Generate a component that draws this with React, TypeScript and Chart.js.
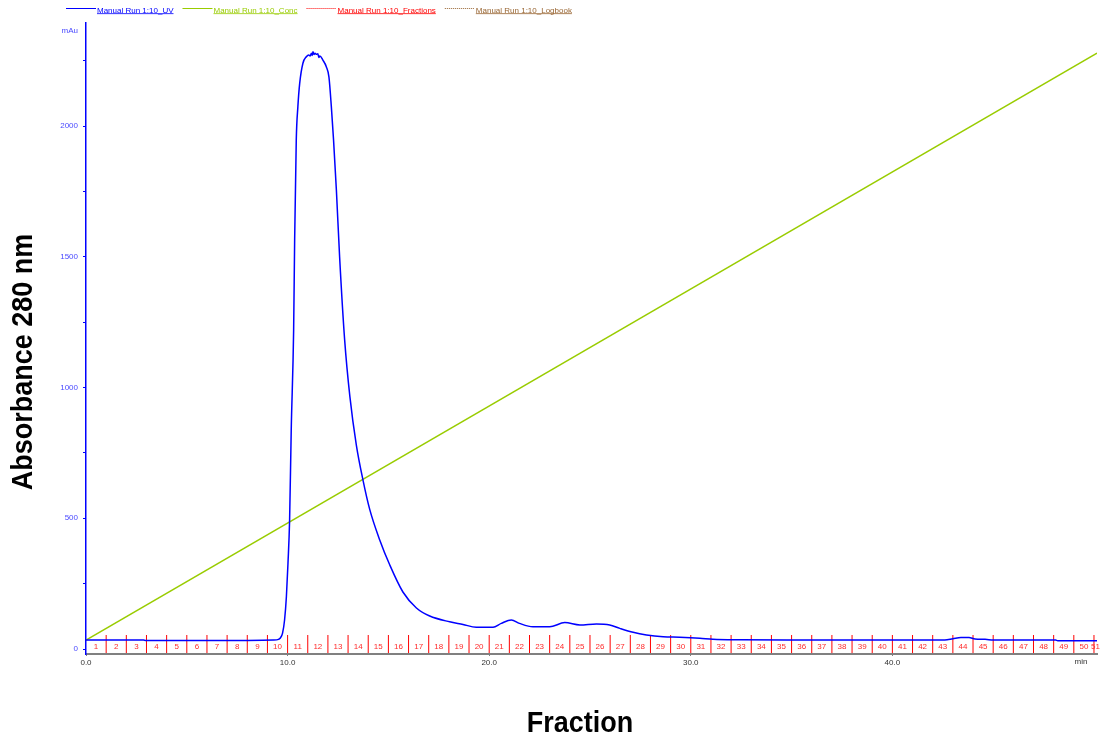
import React, { useEffect, useRef } from 'react';
import { Chart, registerables } from 'chart.js';

Chart.register(...registerables);

// ---- Data ----
const uvTimes = [
  0.0, 1.0, 2.0, 2.85, 2.95, 5.0, 8.0, 9.3, 9.55, 9.64, 9.75, 9.85, 9.94, 10.02, 10.1, 10.18,
  10.3, 10.35, 10.43, 10.51, 10.6, 10.76, 10.93, 11.05, 11.12, 11.18, 11.22, 11.26, 11.31, 11.36,
  11.42, 11.5, 11.55, 11.6, 11.75, 11.92, 12.05, 12.17, 12.28, 12.42, 12.58, 12.83, 13.09, 13.41,
  13.74, 14.07, 14.57, 15.07, 15.72, 16.39, 17.05, 18.04, 18.7, 19.36, 20.19, 20.6, 21.1, 21.5,
  22.17, 23.0, 23.75, 24.5, 25.32, 25.98, 26.48, 27.14, 27.8, 28.63, 29.45, 30.45, 31.1, 32.5,
  35.0, 40.0, 42.6, 43.0, 43.4, 43.8, 44.1, 44.6, 45.0, 48.1, 48.2, 50.15,
];
const uvValues = [
  34, 34, 34, 34, 33, 33, 33, 34, 37, 42, 61, 111, 200, 329, 493, 837,
  1220, 1564, 1946, 2074, 2163, 2240, 2265, 2272, 2268, 2278, 2270, 2284, 2273, 2278,
  2274, 2276, 2262, 2268, 2252, 2227, 2188, 2074, 1946, 1755, 1500, 1182, 965, 780,
  646, 535, 417, 321, 218, 157, 126, 104, 94, 83, 83, 98, 111, 98,
  85, 85, 101, 92, 96, 92, 79, 64, 54, 47, 45, 41, 37, 35,
  34, 34, 34, 39, 44, 44, 38, 37, 34, 34, 32, 32,
];
const concTimes = [0, 50.15];
const concValues = [0, 100.3];

const fractionStarts = [
  0, 1, 2, 3, 4, 5, 6, 7, 8, 9, 10, 11, 12, 13, 14, 15, 16, 17, 18, 19, 20, 21, 22, 23, 24, 25,
  26, 27, 28, 29, 30, 31, 32, 33, 34, 35, 36, 37, 38, 39, 40, 41, 42, 43, 44, 45, 46, 47, 48, 49, 50,
];
const fractionLabels = [
  '1', '2', '3', '4', '5', '6', '7', '8', '9', '10', '11', '12', '13', '14', '15', '16', '17',
  '18', '19', '20', '21', '22', '23', '24', '25', '26', '27', '28', '29', '30', '31', '32', '33',
  '34', '35', '36', '37', '38', '39', '40', '41', '42', '43', '44', '45', '46', '47', '48', '49',
  '50', '51',
];

const yTickValues = [0, 250, 500, 750, 1000, 1250, 1500, 1750, 2000, 2250];
const yTickLabels = ['0', '', '500', '', '1000', '', '1500', '', '2000', ''];
const xTickValues = [0, 10, 20, 30, 40];
const xTickLabels = ['0.0', '10.0', '20.0', '30.0', '40.0'];

const legendLabels = [
  'Manual Run 1:10_UV',
  'Manual Run 1:10_Conc',
  'Manual Run 1:10_Fractions',
  'Manual Run 1:10_Logbook',
];
const legendColors = ['#0000ff', '#99cc00', '#ff0000', '#996633'];
const legendDashes: number[][] = [[], [], [1, 1], [1, 1]];

const yTitle = 'Absorbance 280 nm';
const xTitle = 'Fraction';
const yUnit = 'mAu';
const xUnit = 'min';

const FONT = '"Liberation Sans", Arial, sans-serif';

const overlayPlugin = {
  id: 'unicornOverlay',
  beforeDatasetsDraw(chart: any) {
    const { ctx, chartArea, scales } = chart;
    const xs = scales.x;
    const bottom = chartArea.bottom;
    ctx.save();
    ctx.strokeStyle = '#ff0000';
    ctx.lineWidth = 1;
    ctx.fillStyle = '#ff2a2a';
    ctx.font = `8px ${FONT}`;
    ctx.textAlign = 'center';
    ctx.textBaseline = 'middle';
    fractionStarts.forEach((s, i) => {
      const px = xs.getPixelForValue(s);
      if (i > 0) {
        ctx.beginPath();
        ctx.moveTo(px, bottom - 19);
        ctx.lineTo(px, bottom - 1);
        ctx.stroke();
      }
      const end = i + 1 < fractionStarts.length ? fractionStarts[i + 1] : xs.max;
      const ex = xs.getPixelForValue(Math.min(end, xs.max));
      ctx.fillText(fractionLabels[i], (px + ex) / 2, bottom - 7);
    });
    ctx.restore();
  },
  afterDraw(chart: any) {
    const { ctx, chartArea } = chart;
    ctx.save();
    // legend
    ctx.font = `8px ${FONT}`;
    ctx.textAlign = 'left';
    ctx.textBaseline = 'alphabetic';
    let lx = 66;
    legendLabels.forEach((label, i) => {
      ctx.strokeStyle = legendColors[i];
      ctx.lineWidth = 1;
      ctx.setLineDash(legendDashes[i]);
      ctx.beginPath();
      ctx.moveTo(lx, 8.5);
      ctx.lineTo(lx + 30, 8.5);
      ctx.stroke();
      ctx.setLineDash([]);
      const tx = lx + 31;
      ctx.fillStyle = legendColors[i];
      ctx.fillText(label, tx, 12.5);
      const w = ctx.measureText(label).width;
      ctx.fillRect(tx, 13.3, w, 0.8);
      lx = tx + w + 9;
    });
    // units
    ctx.fillStyle = '#4a4aff';
    ctx.textAlign = 'right';
    ctx.textBaseline = 'middle';
    ctx.fillText(yUnit, chartArea.left - 8, 31);
    ctx.fillStyle = '#333333';
    ctx.textAlign = 'center';
    ctx.fillText(xUnit, 1081, chartArea.bottom + 8);
    // axis titles
    ctx.fillStyle = '#000000';
    ctx.font = `bold 29px ${FONT}`;
    ctx.textAlign = 'center';
    ctx.textBaseline = 'alphabetic';
    ctx.save();
    ctx.translate(580, 732);
    ctx.scale(0.93, 1);
    ctx.fillText(xTitle, 0, 0);
    ctx.restore();
    ctx.save();
    ctx.translate(32, 362);
    ctx.rotate(-Math.PI / 2);
    ctx.scale(0.93, 1);
    ctx.fillText(yTitle, 0, 0);
    ctx.restore();
    ctx.restore();
  },
};

export default function App() {
  const ref = useRef<HTMLCanvasElement>(null);
  useEffect(() => {
    const canvas = ref.current;
    if (!canvas) return;
    const chart = new Chart(canvas, {
      type: 'line',
      data: {
        datasets: [
          {
            label: legendLabels[0],
            data: uvTimes.map((t, i) => ({ x: t, y: uvValues[i] })),
            borderColor: legendColors[0],
            borderWidth: 1.5,
            pointRadius: 0,
            cubicInterpolationMode: 'monotone',
            yAxisID: 'y',
            order: 1,
          },
          {
            label: legendLabels[1],
            data: concTimes.map((t, i) => ({ x: t, y: concValues[i] })),
            borderColor: legendColors[1],
            borderWidth: 1.5,
            pointRadius: 0,
            yAxisID: 'yConc',
            order: 2,
          },
        ],
      },
      options: {
        responsive: false,
        animation: false,
        events: [],
        layout: { padding: { top: 23, right: 3, left: 0, bottom: 0 } },
        plugins: { legend: { display: false }, tooltip: { enabled: false }, title: { display: false } },
        scales: {
          x: {
            type: 'linear',
            min: 0,
            max: 50.15,
            afterFit: (s: any) => { s.height = 84; },
            afterBuildTicks: (s: any) => { s.ticks = xTickValues.map((v) => ({ value: v })); },
            ticks: {
              autoSkip: false,
              maxRotation: 0,
              padding: 2,
              color: '#333333',
              font: { family: FONT, size: 8 },
              callback: (_v: any, i: number) => xTickLabels[i],
            },
            grid: { drawOnChartArea: false, tickLength: 2, color: '#808080', tickColor: '#808080' },
            border: { color: '#808080', width: 2 },
          },
          y: {
            type: 'linear',
            min: -19.1,
            max: 2393.9,
            afterFit: (s: any) => { s.width = 86; },
            afterBuildTicks: (s: any) => { s.ticks = yTickValues.map((v) => ({ value: v })); },
            ticks: {
              autoSkip: false,
              padding: 5,
              color: '#4a4aff',
              font: { family: FONT, size: 8 },
              callback: (_v: any, i: number) => yTickLabels[i],
            },
            grid: { drawOnChartArea: false, tickLength: 3, color: '#0000ff', tickColor: '#0000ff' },
            border: { color: '#0000ff', width: 1.5 },
          },
          yConc: {
            type: 'linear',
            display: false,
            min: -2.392,
            max: 105.44,
          },
        },
      },
      plugins: [overlayPlugin],
    } as any);
    return () => chart.destroy();
  }, []);
  return (
    <div style={{ position: 'fixed', left: 0, top: 0, width: 1100, height: 738, background: '#ffffff' }}>
      <canvas ref={ref} width={1100} height={738} style={{ display: 'block' }} />
    </div>
  );
}
